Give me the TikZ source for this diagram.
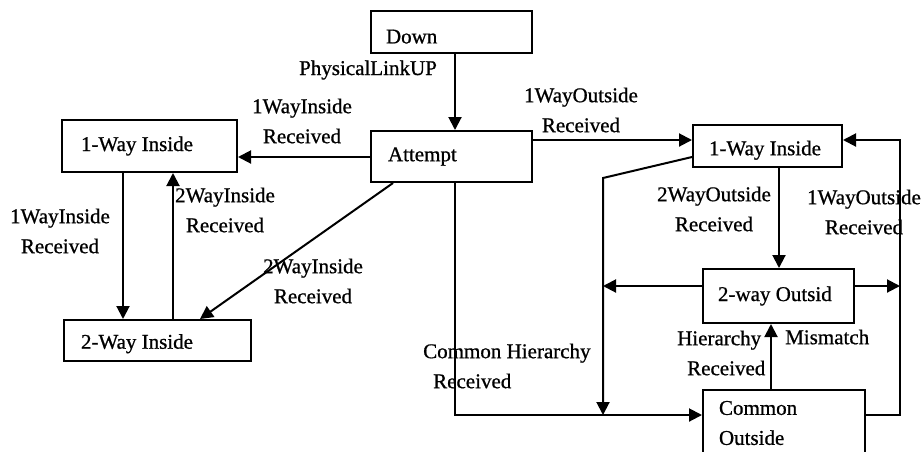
\documentclass[tikz,border=0pt]{standalone}
\usepackage{fontspec}
\setmainfont[FakeBold=0.8]{Liberation Serif}
\usetikzlibrary{arrows.meta}

\begin{document}
\begin{tikzpicture}[x=1pt,y=-1pt,
  every node/.style={font=\fontsize{21}{30}\selectfont},
  statebox/.style={draw, line width=2pt, rectangle, anchor=north west,
    align=flush left, inner ysep=0pt},
  conn/.style={line width=2pt},
  arr/.style={conn, -{Triangle[length=13pt,width=13pt]}},
  lbl/.style={inner sep=0pt, align=center}]

\clip (0,0) rectangle (923,451);

% states
\node[statebox, minimum width=161pt, minimum height=42pt, inner xsep=15pt, text width=131pt, text height=23pt] (down) at (370,10) {Down};
\node[statebox, minimum width=161pt, minimum height=51pt, inner xsep=17pt, text width=127pt] (attempt) at (370,130) {Attempt};
\node[statebox, minimum width=175pt, minimum height=52pt, inner xsep=19pt, text width=137pt] (iw1) at (61,119) {1-Way Inside};
\node[statebox, minimum width=187pt, minimum height=41pt, inner xsep=17pt, text width=153pt, text height=21pt] (iw2) at (63,319) {2-Way Inside};
\node[statebox, minimum width=149pt, minimum height=42pt, inner xsep=16pt, text width=117pt, text height=23pt] (ow1) at (692,124) {1-Way Inside};
\node[statebox, minimum width=151pt, minimum height=54pt, inner xsep=15pt, text width=121pt] (ow2) at (702,268) {2-way Outsid};
\node[statebox, minimum width=162pt, minimum height=66pt, inner xsep=16pt, text width=130pt] (co) at (702,389) {Common\\Outside};

% connector tracks
\coordinate (xd) at (455,0);
\coordinate (xl) at (123,0);
\coordinate (xr) at (173,0);
\coordinate (xe) at (393,0);
\coordinate (xf) at (200,0);
\coordinate (xg) at (779,0);
\coordinate (xm) at (771,0);
\coordinate (xv) at (603,0);
\coordinate (xw) at (900,0);
\coordinate (ya) at (0,157);
\coordinate (yb) at (0,140);
\coordinate (yk) at (0,178);
\coordinate (yh) at (0,286);
\coordinate (yc) at (0,415);

% transitions
\draw[arr] (down.south -| xd) -- (attempt.north -| xd);
\draw[arr] (attempt.west |- ya) -- (iw1.east |- ya);
\draw[arr] (attempt.east |- yb) -- (ow1.west |- yb);
\draw[arr] (iw1.south -| xl) -- (iw2.north -| xl);
\draw[arr] (iw2.north -| xr) -- (iw1.south -| xr);
\draw[arr] (attempt.south -| xe) -- (iw2.north -| xf);
\draw[arr] (ow1.south -| xg) -- (ow2.north -| xg);
\draw[arr] (ow2.west |- yh) -- (xv |- yh);
\draw[arr] (ow2.east |- yh) -- (xw |- yh);
\draw[arr] (co.north -| xm) -- (ow2.south -| xm);
\draw[arr] (attempt.south -| xd) -- (xd |- yc) -- (co.west |- yc);
\draw[arr] (ow1.west |- ya) -- (xv |- yk) -- (xv |- yc);
\draw[arr] (co.east |- yc) -- (xw |- yc) -- (xw |- yb) -- (ow1.east |- yb);

% transition labels
\node[lbl] (lphys) at (368,70) {PhysicalLinkUP};
\node[lbl] (l1wi) at (302,121) {1WayInside\\Received};
\node[lbl] (l1wo) at (581,110) {1WayOutside\\Received};
\node[lbl] (l1wil) at (60,231) {1WayInside\\Received};
\node[lbl] (l2wi) at (225,210) {2WayInside\\Received};
\node[lbl] (l2wid) at (313,281) {2WayInside\\Received};
\node[lbl] (l2wo) at (714,209) {2WayOutside\\Received};
\node[lbl] (l1wor) at (864,212) {1WayOutside\\Received};
\node[lbl, align=flush left, anchor=west] (lch) at (423,366) {Common Hierarchy\\\hspace*{10pt}Received};
\node[lbl, align=flush left, anchor=west] (lhr) at (677,353) {Hierarchy\\\hspace*{10pt}Received};
\node[lbl, anchor=west] (lmm) at (785,337) {Mismatch};

\end{tikzpicture}
\end{document}
